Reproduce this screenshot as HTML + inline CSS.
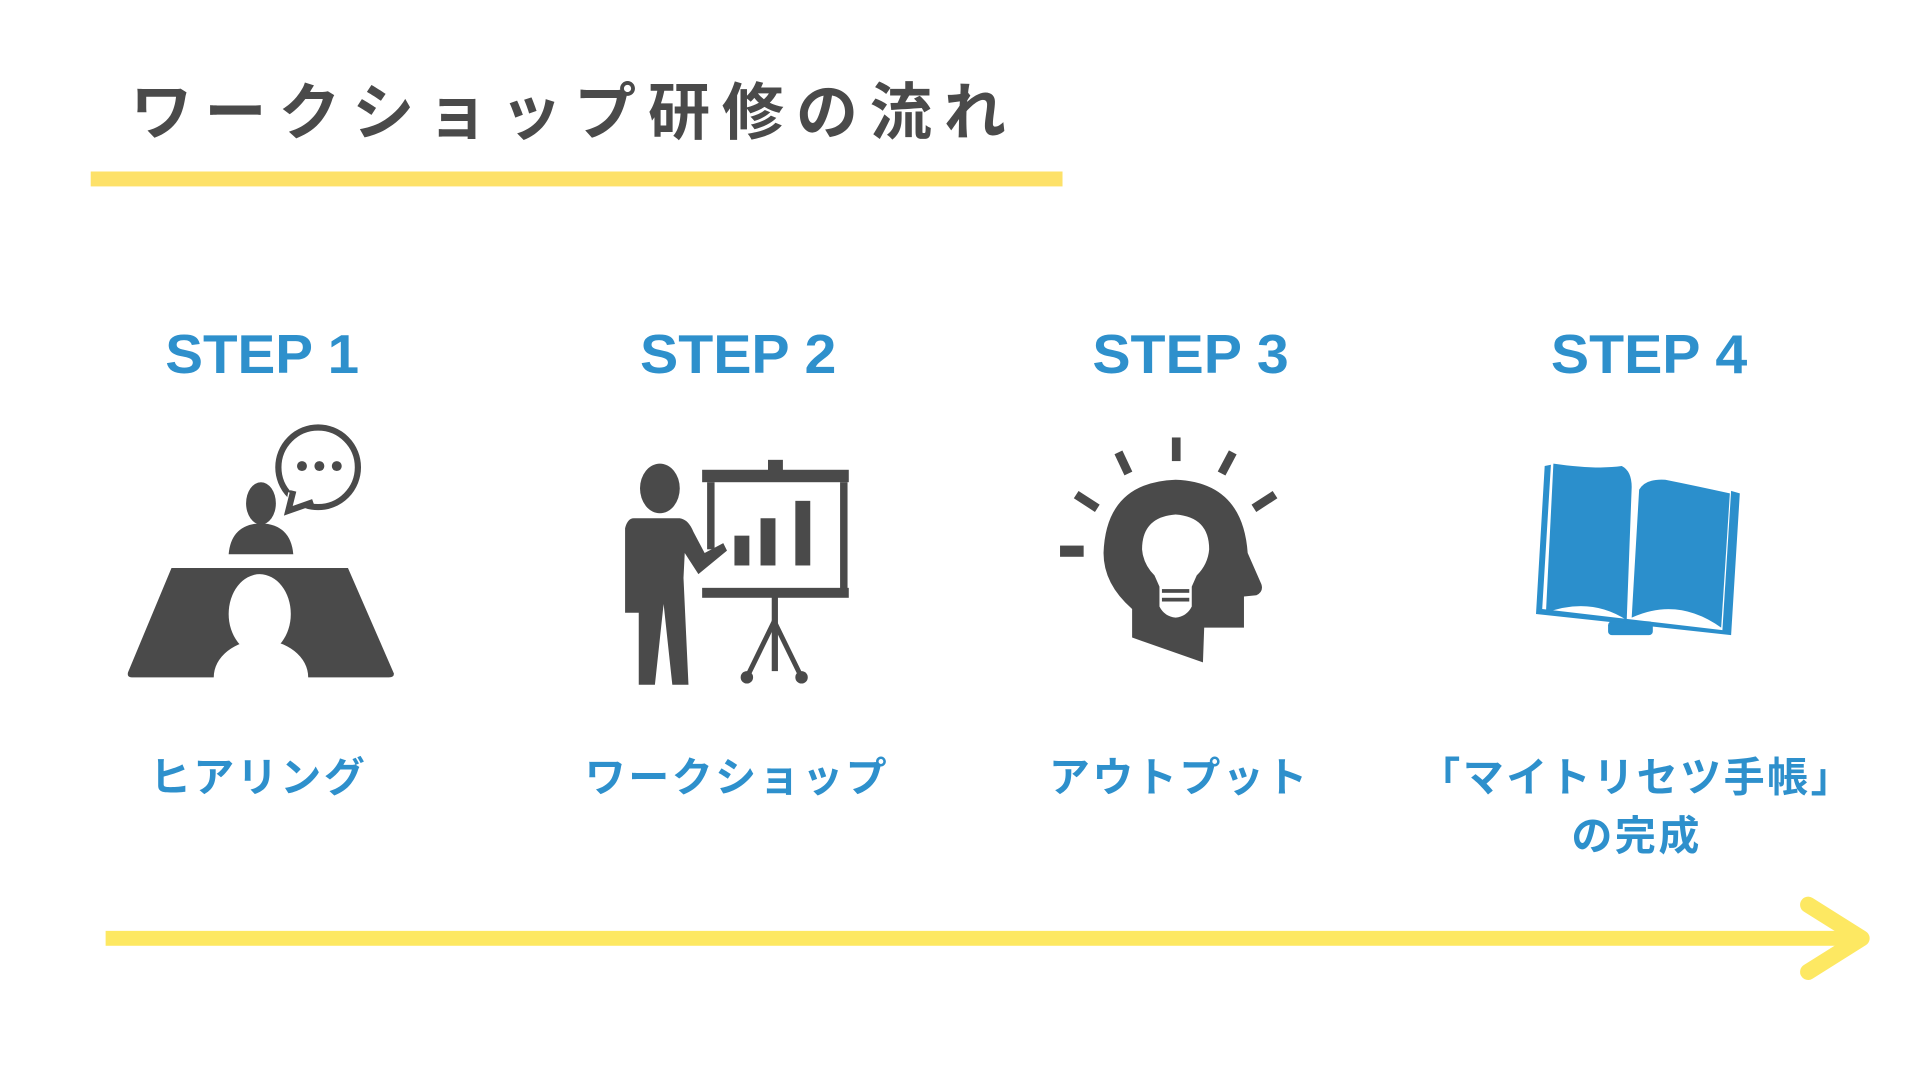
<!DOCTYPE html>
<html><head><meta charset="utf-8"><style>
html,body{margin:0;padding:0;background:#fff;}
svg{display:block;}
text{font-family:"Liberation Sans","Noto Sans CJK JP",sans-serif;font-weight:bold;}
</style></head><body>
<svg width="1920" height="1080" viewBox="0 0 1545 869" preserveAspectRatio="none">
<rect width="1545" height="869" fill="#fff"/>
<text x="105" y="108" font-size="50" fill="#4a4a4a" letter-spacing="9.5">ワークショップ研修の流れ</text>
<rect x="73" y="138" width="782" height="12" fill="#fde169"/>
<g fill="#2e90cc" font-size="44" text-anchor="middle">
<text x="211" y="300" textLength="156" lengthAdjust="spacingAndGlyphs">STEP 1</text>
<text x="594" y="300" textLength="158" lengthAdjust="spacingAndGlyphs">STEP 2</text>
<text x="958" y="300" textLength="158" lengthAdjust="spacingAndGlyphs">STEP 3</text>
<text x="1327" y="300" textLength="158" lengthAdjust="spacingAndGlyphs">STEP 4</text>
</g>
<g fill="#2e90cc" font-size="33" text-anchor="middle" letter-spacing="2">
<text x="208" y="637">ヒアリング</text>
<text x="593" y="637">ワークショップ</text>
<text x="949" y="637">アウトプット</text>
<text x="1317" y="637">「マイトリセツ手帳」</text>
<text x="1317" y="684">の完成</text>
</g>
<!-- arrow -->
<rect x="85" y="749" width="1412" height="12" fill="#fde862"/>
<polyline points="1455,728 1498,755 1455,782" fill="none" stroke="#fde862" stroke-width="13" stroke-linecap="round" stroke-linejoin="round"/>
<!-- icon1 -->
<g fill="#4a4a4a">
<path d="M138,457 L280,457 L317,542 Q317,545 313,545 L248,545 A38,30 0 0 0 172,545 L106,545 Q102,545 103,541 Z"/>
<ellipse cx="209" cy="494" rx="25" ry="32" fill="#fff"/>
<ellipse cx="210" cy="405" rx="12" ry="17"/>
<path d="M184,446 Q186,422 210,421 Q234,422 236,446 Z"/>
<circle cx="256" cy="376" r="32" fill="none" stroke="#4a4a4a" stroke-width="5"/>
<path d="M232,396 L229,410 L250,403 Z" fill="#fff"/>
<path d="M236,395 L232,411 L252,404" fill="none" stroke="#4a4a4a" stroke-width="5"/>
<circle cx="243" cy="375" r="4"/><circle cx="257" cy="375" r="4"/><circle cx="271" cy="375" r="4"/>
</g>
<!-- icon2 -->
<g fill="#4a4a4a">
<ellipse cx="531" cy="393" rx="16" ry="20"/>
<path d="M510,417 L547,417 Q554,418 558,428 L567,445 L582,437 L585,443 L562,462 L551,445 L550,465 L554,551 L541,551 L534,486 L527,551 L514,551 L514,493 L503,493 L503,425 Q505,417 510,417 Z"/>
<rect x="565" y="378" width="118" height="10"/>
<rect x="618" y="370" width="12" height="9"/>
<rect x="569" y="388" width="6" height="54"/>
<rect x="676" y="388" width="6" height="86"/>
<rect x="565" y="473" width="118" height="8"/>
<rect x="591" y="431" width="12" height="24"/>
<rect x="612" y="417" width="12" height="38"/>
<rect x="640" y="403" width="12" height="52"/>
<rect x="621" y="480" width="5" height="60"/>
<path d="M623,500 L601,545 M623,500 L645,545" stroke="#4a4a4a" stroke-width="4"/>
<circle cx="601" cy="545" r="5"/><circle cx="645" cy="545" r="5"/>
</g>
<!-- icon3 -->
<g fill="#4a4a4a">
<path d="M946,386 Q1000,388 1004,445 L1015,470 Q1017,476 1011,479 L1001,480 L1001,505 L969,505 L968,533 L911,513 L911,490 Q888,470 888,445 Q890,388 946,386 Z"/>
<path d="M946,414 Q973,416 973,442 Q972,454 963,463 L959,472 L959,488 Q955,496 946,497 Q937,496 933,488 L933,472 L929,463 Q920,454 919,442 Q919,416 946,414 Z" fill="#fff"/>
<rect x="935" y="474" width="22" height="3" fill="#4a4a4a"/>
<rect x="935" y="481" width="22" height="3" fill="#4a4a4a"/>
<rect x="853" y="439" width="19" height="9"/>
<rect x="943" y="352" width="7" height="19"/>
<path d="M900,364 L908,381 M992,364 L983,381 M866,398 L883,409 M1026,398 L1009,409" stroke="#4a4a4a" stroke-width="7"/>
</g>
<!-- icon4 -->
<g fill="#2b8fcc">
<path d="M1243,375 L1248,374 L1241,490 L1386,507 L1393,395 L1400,397 L1393,511 L1236,494 Z"/>
<path d="M1250,373 Q1285,378 1305,375 Q1313,379 1313,392 L1309,499 Q1280,480 1244,493 Z"/>
<path d="M1319,394 Q1324,385 1340,386 Q1365,391 1392,397 L1385,505 Q1350,480 1313,497 Z"/>
<rect x="1294" y="500" width="36" height="11" rx="3"/>
</g>
</svg>
</body></html>
